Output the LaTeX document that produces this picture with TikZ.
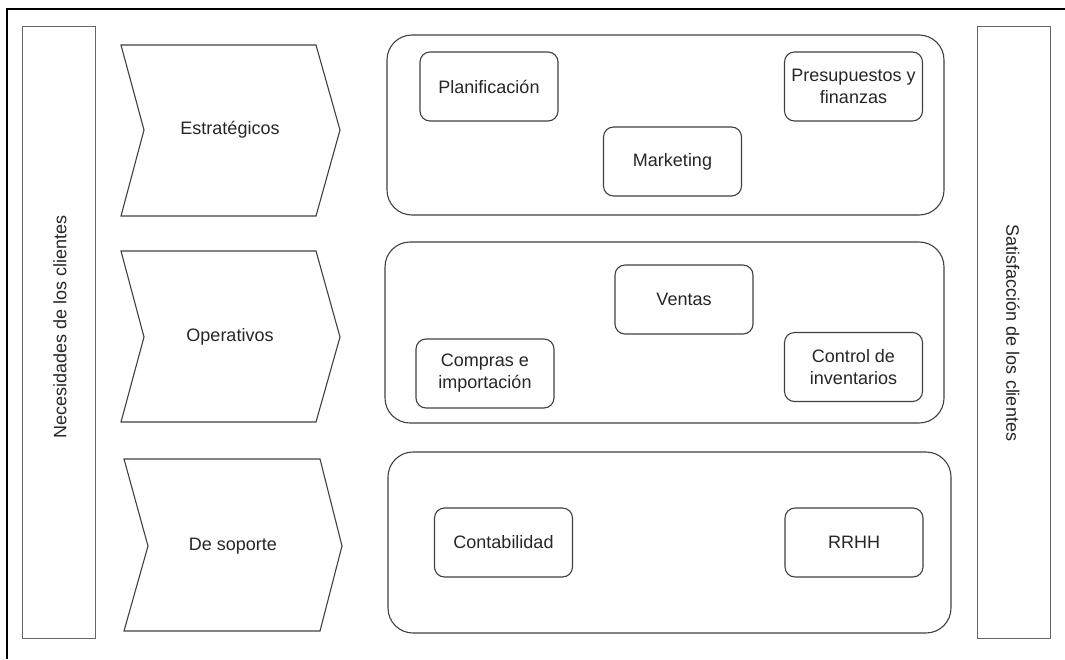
\documentclass[tikz,border=0pt]{standalone}
\usepackage{fontspec}
\setmainfont{Liberation Sans}
\begin{document}
\begin{tikzpicture}[x=1pt,y=-1pt,
  every node/.style={font=\fontsize{18}{22}\selectfont, text=black!85},
  bar/.style={draw=black!60, line width=1pt},
  chev/.style={draw=black!75, line width=1.1pt, line join=miter},
  group/.style={draw=black!75, line width=1.1pt, rounded corners=25pt},
  proc/.style={draw=black!75, line width=1.1pt, rounded corners=10pt, align=center,
    minimum width=138pt, minimum height=69pt, inner sep=0pt},
  frame/.style={draw=black, line width=1.3pt}]
\useasboundingbox (0,0) rectangle (1065,659);
% outer frame (top and left)
\draw[frame] (7,659) -- (7,9) -- (1065,9);
% side bars
\draw[bar] (22,26) rectangle (95,638);
\node[rotate=90] (need) at (60,327) {Necesidades de los clientes};
\draw[bar] (977,26) rectangle (1050,638);
\node[rotate=-90] (sat) at (1013,333) {Satisfacción de los clientes};
% chevrons
\draw[chev] (121,45) -- (316,45) -- (340,130) -- (316,216) -- (121,216) -- (144,130) -- cycle;
\node (estr) at (230,130) {Estratégicos};
\draw[chev] (121,251) -- (316,251) -- (340,337) -- (316,422) -- (121,422) -- (144,337) -- cycle;
\node (oper) at (230,337) {Operativos};
\draw[chev] (124,459) -- (320,459) -- (342,546) -- (320,631) -- (124,631) -- (148,546) -- cycle;
\node (sop) at (233,546) {De soporte};
% group containers
\draw[group] (387,35) rectangle (944,215);
\draw[group] (385,242) rectangle (944,423);
\draw[group] (388,452) rectangle (951,633);
% process boxes
\node[proc] (plan) at (489,86.5) {Planificación};
\node[proc] (mark) at (672.5,161.5) {Marketing};
\node[proc] (pres) at (853.5,86.5) {Presupuestos y\\finanzas};
\node[proc] (vent) at (684,299.5) {Ventas};
\node[proc] (comp) at (485,373.5) {Compras e\\importación};
\node[proc] (ctrl) at (853.5,367) {Control de\\inventarios};
\node[proc] (cont) at (503.5,542.5) {Contabilidad};
\node[proc] (rrhh) at (854,542.5) {RRHH};
\end{tikzpicture}
\end{document}
